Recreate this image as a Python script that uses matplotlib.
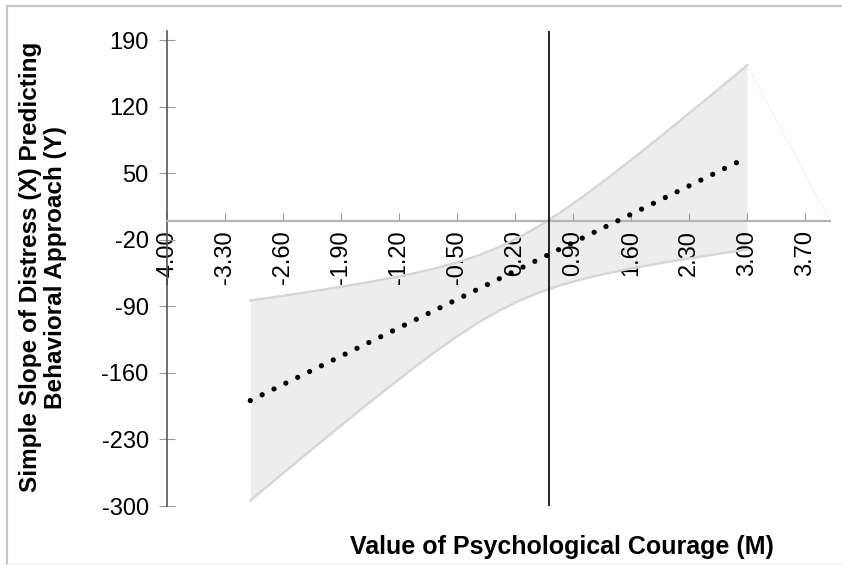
import numpy as np
import matplotlib.pyplot as plt
from matplotlib.lines import Line2D

plt.rcParams['font.family'] = ['Liberation Sans', 'DejaVu Sans']

# values of the moderator (M) where the band was read
m_vals = [-3.00, -2.75, -2.50, -2.25, -2.00, -1.75, -1.50, -1.25, -1.00,
          -0.75, -0.50, -0.25, 0.00, 0.25, 0.50, 0.75, 1.00, 1.25, 1.50,
          1.75, 2.00, 2.25, 2.50, 2.75, 3.00]
# upper / lower confidence limits of the simple slope
upper = [-83.9, -80.8, -77.6, -74.3, -70.8, -67.2, -63.4, -59.3, -54.8,
         -49.7, -43.7, -36.6, -27.9, -17.3, -4.9, 9.1, 24.3, 40.4, 57.2,
         74.3, 91.8, 109.5, 127.3, 145.3, 163.4]
lower = [-294.3, -276.1, -258.0, -240.0, -222.2, -204.5, -187.0, -169.8, -153.0,
         -136.8, -121.5, -107.3, -94.8, -84.0, -75.1, -67.8, -61.7, -56.5, -52.0,
         -47.8, -44.0, -40.4, -36.9, -33.6, -30.4]
# simple slope line (end points)
slope_x = [-3.0, 3.0]
slope_y = [-189.1, 66.5]

jn_point = 0.61  # johnson-neyman boundary

x_ticks = [-4.00, -3.30, -2.60, -1.90, -1.20, -0.50, 0.20, 0.90, 1.60, 2.30, 3.00, 3.70]
y_ticks = [-300, -230, -160, -90, -20, 50, 120, 190]

fig = plt.figure(figsize=(8.42, 5.65), dpi=100)
ax = fig.add_axes([0.1989, 0.1044, 0.7868, 0.8416])

# spine position first (it resets the ticks)
ax.spines['top'].set_visible(False)
ax.spines['right'].set_visible(False)
ax.spines['bottom'].set_position(('data', 0))
ax.spines['bottom'].set_color('#b3b3b3')
ax.spines['bottom'].set_linewidth(1.6)
ax.spines['left'].set_color('#555555')
ax.spines['left'].set_linewidth(1.2)
ax.spines['bottom'].set_zorder(3)

# confidence band
ax.fill_between(m_vals, lower, upper, color='#ededed', lw=0, zorder=1)
ax.plot(m_vals, upper, color='#d6d6d6', lw=1.7, zorder=2)
ax.plot(m_vals, lower, color='#d6d6d6', lw=1.7, zorder=2)
# faint closing edge of the polygon
ax.plot([m_vals[-1], 4.0], [upper[-1], 0], color='#f3f3f3', lw=0.8, zorder=1)

# simple slope (dotted)
ax.plot(slope_x, slope_y, color='black', lw=3.8, linestyle=(0, (0.001, 2.5)),
        dash_capstyle='round', solid_capstyle='round', zorder=4)

# johnson-neyman line
ax.plot([jn_point, jn_point], [-300, 200], color='black', lw=1.2, zorder=5)

ax.set_xlim(-4, 4)
ax.set_ylim(-300, 200)
ax.set_xticks(x_ticks)
ax.set_xticklabels(['%.2f' % v for v in x_ticks], rotation=90)
ax.set_yticks(y_ticks)
ax.set_yticklabels([str(v) for v in y_ticks])

ax.tick_params(axis='x', direction='in', length=5.5, width=0.8, color='#999999',
               pad=7, labelsize=17)
ax.tick_params(axis='y', direction='inout', length=11, width=0.8, color='#999999',
               pad=8, labelsize=17)
ax.set_facecolor('none')

fig.text(0.667, 0.032, 'Value of Psychological Courage (M)', fontsize=18,
         fontweight='bold', ha='center', va='center')
fig.text(0.051, 0.527, 'Simple Slope of Distress (X) Predicting\nBehavioral Approach (Y)',
         fontsize=17.5, fontweight='bold', rotation=90, ha='center', va='center',
         multialignment='center', linespacing=1.1)

# outer frame
fc = '#c6c6c6'
fig.add_artist(Line2D([7 / 842, 1], [1 - 5.7 / 565, 1 - 5.7 / 565], color=fc, lw=1.5))
fig.add_artist(Line2D([7 / 842, 7 / 842], [0, 1 - 5.7 / 565], color=fc, lw=1.5))
fig.add_artist(Line2D([7 / 842, 1], [1.2 / 565, 1.2 / 565], color='#eeeeee', lw=1.0))

fig.savefig('out.png', dpi=100)
